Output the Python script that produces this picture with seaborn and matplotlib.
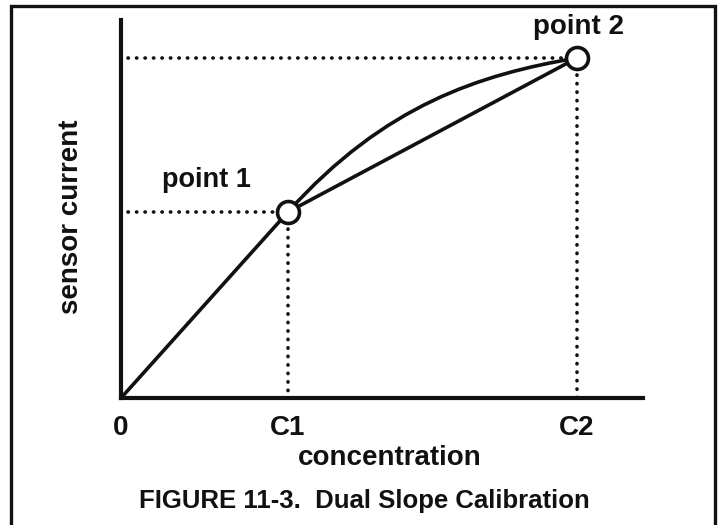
import matplotlib
matplotlib.use("Agg")
import matplotlib.pyplot as plt
from matplotlib.path import Path
from matplotlib.patches import PathPatch, Rectangle
import seaborn as sns
import pandas as pd

# Calibration points (concentration, sensor current) in arbitrary units
conc_points = [0.0, 1.0, 2.731]
current_points = [0.0, 1.0, 1.828]
point_labels = ["point 1", "point 2"]
tick_labels = ["0", "C1", "C2"]

# True (curved) response between the two calibration points: cubic Bezier nodes
curve_conc = [1.0, 1.581, 2.150, 2.731]
curve_current = [1.0, 1.579, 1.739, 1.828]

x_max, y_max = 3.126, 2.032

sns.set_theme(style="white")
plt.rcParams["font.family"] = ["Liberation Sans", "DejaVu Sans"]
plt.rcParams["font.weight"] = "bold"

W, H, DPI = 724, 525, 100
fig = plt.figure(figsize=(W / DPI, H / DPI), dpi=DPI)
ax = fig.add_axes([121 / W, (H - 398) / H, 522 / W, 378 / H])
ax.set_xlim(0, x_max)
ax.set_ylim(0, y_max)

ink = "#111111"
lw_main = 2.6

# Dual-slope piecewise linear calibration
df = pd.DataFrame({"conc": conc_points, "current": current_points})
sns.lineplot(data=df, x="conc", y="current", ax=ax, color=ink, lw=lw_main,
             sort=False, zorder=3)

# Actual sensor response curve
verts = list(zip(curve_conc, curve_current))
codes = [Path.MOVETO, Path.CURVE4, Path.CURVE4, Path.CURVE4]
ax.add_patch(PathPatch(Path(verts, codes), facecolor="none", edgecolor=ink,
                       lw=lw_main, zorder=3, capstyle="round"))

# Dotted guide lines to the axes
dot_style = dict(color=ink, lw=2.6, linestyle=(0, (0.1, 2.25)),
                 dash_capstyle="round", zorder=2)
for cx, cy in zip(conc_points[1:], current_points[1:]):
    ax.plot([0.04, cx], [cy, cy], **dot_style)
    ax.plot([cx, cx], [cy, 0.0], **dot_style)

# Calibration point markers
pts = df.iloc[1:]
sns.scatterplot(data=pts, x="conc", y="current", ax=ax, s=250,
                facecolor="white", edgecolor=ink, linewidth=2.6, zorder=5)

# Point labels
ax.text(0.245, 1.135, point_labels[0], fontsize=19.5, fontweight="bold",
        color=ink, ha="left", va="baseline")
ax.text(2.47, 1.955, point_labels[1], fontsize=20, fontweight="bold",
        color=ink, ha="left", va="baseline")

# Axes styling
for side in ["top", "right"]:
    ax.spines[side].set_visible(False)
for side in ["left", "bottom"]:
    ax.spines[side].set_linewidth(3.0)
    ax.spines[side].set_color(ink)
ax.set_yticks([])
ax.set_xticks(conc_points)
ax.set_xticklabels(tick_labels, fontsize=20, fontweight="bold", color=ink)
ax.tick_params(axis="x", length=0, pad=12)
ax.set_xlabel("")
ax.set_ylabel("")

fig.text(390 / W, (H - 465) / H, "concentration", fontsize=20,
         fontweight="bold", color=ink, ha="center", va="baseline")
fig.text(71 / W, (H - 217) / H, "sensor current", fontsize=20,
         fontweight="bold", color=ink, ha="center", va="center", rotation=90)
fig.text(364 / W, (H - 508) / H, "FIGURE 11-3.  Dual Slope Calibration",
         fontsize=18.5, fontweight="bold", color=ink, ha="center",
         va="baseline")

# Page frame
fig.patches.append(Rectangle((10.5 / W, -0.02), (715 - 10.5) / W,
                             (H - 5.5) / H + 0.02, transform=fig.transFigure,
                             facecolor="none", edgecolor=ink, lw=2.4))

fig.savefig("out.png", dpi=DPI, facecolor="white")
